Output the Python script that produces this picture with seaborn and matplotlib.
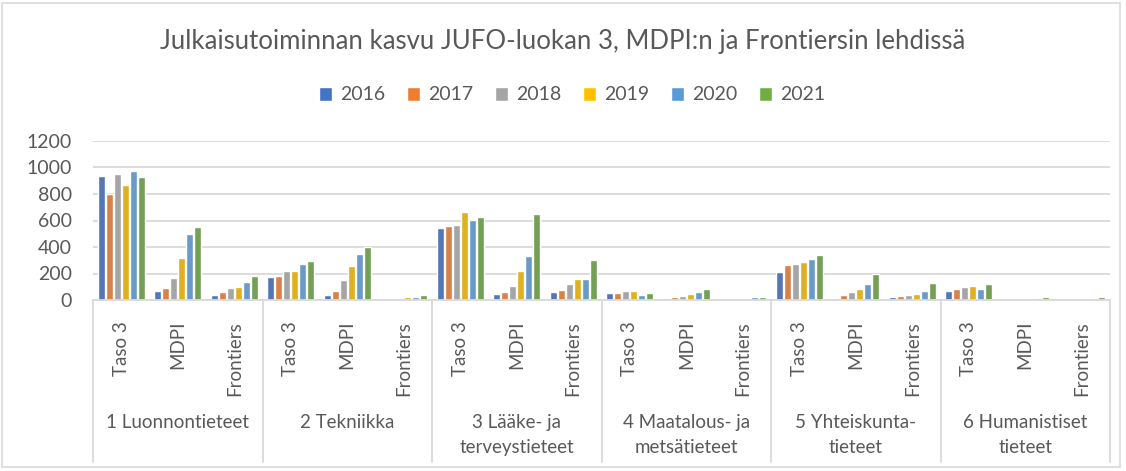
import pandas as pd
import matplotlib.pyplot as plt
import seaborn as sns
from matplotlib.patches import Rectangle, Patch

# data
years = ["2016", "2017", "2018", "2019", "2020", "2021"]
groups = ["1 Luonnontieteet", "2 Tekniikka", "3 Lääke- ja\nterveystieteet",
          "4 Maatalous- ja\nmetsätieteet", "5 Yhteiskunta-\ntieteet", "6 Humanistiset\ntieteet"]
subcats = ["Taso 3", "MDPI", "Frontiers"]

v2016 = [935, 67, 37, 177, 37, 0, 545, 45, 60, 52, 12, 0, 215, 0, 20, 67, 0, 0]
v2017 = [800, 90, 60, 182, 67, 0, 560, 60, 75, 52, 20, 0, 262, 37, 30, 82, 0, 0]
v2018 = [950, 167, 90, 222, 152, 15, 568, 107, 122, 67, 30, 0, 270, 60, 37, 100, 12, 0]
v2019 = [865, 315, 100, 222, 255, 20, 662, 222, 160, 67, 45, 0, 285, 82, 45, 107, 12, 0]
v2020 = [975, 495, 137, 270, 347, 20, 607, 332, 160, 37, 60, 20, 307, 122, 67, 82, 12, 0]
v2021 = [925, 550, 182, 295, 402, 37, 630, 652, 300, 52, 82, 20, 340, 200, 130, 122, 20, 20]

colors = ["#4472C4", "#ED7D31", "#A5A5A5", "#FFC000", "#5B9BD5", "#70AD47"]

series = [v2016, v2017, v2018, v2019, v2020, v2021]
keys = [f"{g}|{s}" for g in groups for s in subcats]
rows = []
for year, vals in zip(years, series):
    for k, v in zip(keys, vals):
        rows.append({"key": k, "year": year, "value": v})
df = pd.DataFrame(rows)

sns.set_style("white")
plt.rcParams["font.family"] = ["Lato", "DejaVu Sans"]
text_col = "#595959"
line_col = "#D9D9D9"

fig = plt.figure(figsize=(11.26, 4.71), dpi=100)
ax = fig.add_axes([93 / 1126, 1 - 300 / 471, 1017 / 1126, 159 / 471])

sns.barplot(data=df, x="key", y="value", hue="year", order=keys, hue_order=years,
            palette=colors, width=0.84, gap=0.12, ax=ax, legend=False)

ax.set_ylim(0, 1200)
ax.set_xlim(-0.5, len(keys) - 0.5)
ax.set_yticks(range(0, 1201, 200))
ax.yaxis.grid(True, color=line_col, linewidth=1.3)
ax.set_axisbelow(True)
for side in ["top", "right", "left"]:
    ax.spines[side].set_visible(False)
ax.spines["bottom"].set_color(line_col)
ax.spines["bottom"].set_linewidth(1.3)
ax.set_xlabel("")
ax.set_ylabel("")
ax.tick_params(axis="y", length=0, labelsize=14, labelcolor=text_col, pad=15)
ax.set_xticks(range(len(keys)))
ax.set_xticklabels(subcats * len(groups), rotation=90, fontsize=13.5, color=text_col)
ax.tick_params(axis="x", length=0, pad=15)

# group labels and separators below the axis
trans = ax.get_xaxis_transform()
for i, g in enumerate(groups):
    ax.text(3 * i + 1, -0.715, g, transform=trans, ha="center", va="top",
            fontsize=13.5, color=text_col, linespacing=1.6)
for b in range(len(groups) + 1):
    x = 3 * b - 0.5
    ax.plot([x, x], [0, -1.02], transform=trans, color=line_col, lw=1.3, clip_on=False)

handles = [Patch(facecolor=c, label=y) for c, y in zip(colors, years)]
fig.legend(handles=handles, loc="center", bbox_to_anchor=(0.508, 1 - 95 / 471), ncol=6,
           frameon=False, fontsize=14, labelcolor=text_col, handlelength=0.7,
           handleheight=0.7, handletextpad=0.4, columnspacing=1.1)

fig.text(0.5, 1 - 42 / 471, "Julkaisutoiminnan kasvu JUFO-luokan 3, MDPI:n ja Frontiersin lehdissä",
         ha="center", va="center", fontsize=18.5, color=text_col)

fig.patches.append(Rectangle((2 / 1126, 4 / 471), 1118 / 1126, 464 / 471, transform=fig.transFigure,
                             fill=False, edgecolor=line_col, lw=1.2))

fig.savefig("out.png", dpi=100)
